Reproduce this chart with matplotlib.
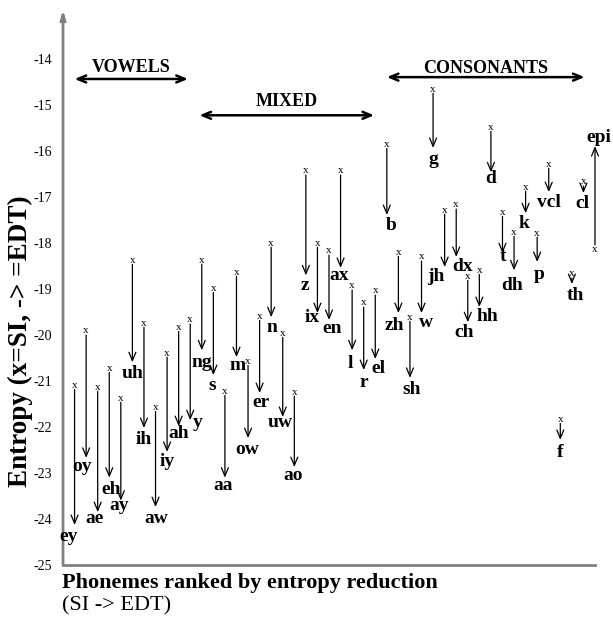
'''
Entropy of each phoneme before (SI) and after (EDT) reduction,
phonemes ranked by the size of the reduction.
'''
import matplotlib
matplotlib.use("Agg")
import matplotlib.pyplot as plt

plt.rcParams["axes.unicode_minus"] = False

phonemes = ["ey", "oy", "ae", "eh", "ay", "uh", "ih", "aw", "iy", "ah",
            "y", "ng", "s", "aa", "m", "ow", "er", "n", "uw", "ao",
            "z", "ix", "en", "ax", "l", "r", "el", "b", "zh", "sh",
            "w", "g", "jh", "dx", "ch", "hh", "d", "t", "dh", "k",
            "p", "vcl", "f", "th", "cl", "epi"]

entropy_si = [-21.09, -19.91, -21.13, -20.72, -21.37, -18.37, -19.74, -21.57, -20.39, -19.83,
              -19.67, -18.37, -18.98, -21.22, -18.63, -20.57, -19.59, -18.00, -19.96, -21.24,
              -16.43, -18.00, -18.17, -16.43, -18.93, -19.30, -19.04, -15.85, -18.20, -19.61,
              -18.30, -14.65, -17.28, -17.17, -18.72, -18.59, -15.48, -17.33, -17.76, -16.78,
              -17.78, -16.28, -21.83, -18.67, -16.67, -18.13]

entropy_edt = [-24.13, -22.67, -23.85, -23.10, -23.60, -20.59, -22.02, -23.74, -22.54, -21.98,
               -21.85, -20.33, -20.87, -23.10, -20.48, -22.24, -21.26, -19.61, -21.78, -22.87,
               -18.70, -19.52, -19.67, -18.54, -20.33, -20.76, -20.52, -17.39, -19.52, -20.93,
               -19.52, -15.93, -18.52, -18.30, -19.72, -19.39, -16.46, -18.22, -18.59, -17.35,
               -18.41, -16.89, -22.28, -18.89, -16.91, -15.89]

groups = [("VOWELS", 1.0, 10.8), ("MIXED", 11.8, 26.9), ("CONSONANTS", 28.0, 45.1)]

# label nudges in pixels (dx right, dy down) from the arrow tip
label_nudge = {
    "ey": (-6, 12), "oy": (-4, 9), "ae": (-3, 6), "eh": (2, 12), "ay": (-2, 5),
    "uh": (0, 11), "ih": (0, 12), "aw": (1, 11), "iy": (0, 10), "ah": (0, 7),
    "y": (7, 2), "ng": (0, 12), "s": (-1, 10), "aa": (-2, 8), "m": (1, 8),
    "ow": (-1, 11), "er": (1, 9), "n": (1, 10), "uw": (-3, 6), "ao": (-1, 8),
    "z": (-1, 10), "ix": (-5, 4), "en": (3, 9), "ax": (-1, 8), "l": (-2, 13),
    "r": (0, 12), "el": (3, 9), "b": (4, 10), "zh": (-4, 12), "sh": (2, 12),
    "w": (4, 9), "g": (0, 12), "jh": (-9, 9), "dx": (6, 10), "ch": (-4, 10),
    "hh": (8, 9), "d": (0, 6), "t": (0, 3), "dh": (-2, 15), "k": (-2, 10),
    "p": (2, 13), "vcl": (0, 10), "f": (0, 13), "th": (3, 11), "cl": (-1, 10),
    "epi": (4, -9),
}

SERIF = "Liberation Serif"
PX = 0.72  # points per pixel at dpi 100


def main():
    fig = plt.figure(figsize=(6.13, 6.21), dpi=100)
    ax = fig.add_axes([63 / 613, 56 / 621, 532 / 613, 555 / 621])
    ax.set_xlim(0, 46)
    ax.set_ylim(-25, -12.93)

    for s in ["top", "right", "left"]:
        ax.spines[s].set_visible(False)
    ax.spines["bottom"].set_color("#808080")
    ax.spines["bottom"].set_linewidth(2)
    # left axis with arrow on top
    ax.annotate("", xy=(0, 1), xycoords="axes fraction", xytext=(0, 0),
                arrowprops=dict(arrowstyle="-|>,head_length=0.5,head_width=0.15",
                                color="#808080", lw=2, shrinkA=0, shrinkB=0))

    ax.set_xticks([])
    ax.set_yticks(range(-25, -13))
    ax.tick_params(axis="y", length=0, pad=8)
    for lab in ax.get_yticklabels():
        lab.set_fontfamily(SERIF)
        lab.set_fontsize(10)

    for i, (name, si, edt) in enumerate(zip(phonemes, entropy_si, entropy_edt)):
        x = i + 1
        ax.annotate("", xy=(x, edt), xytext=(x, si),
                    arrowprops=dict(arrowstyle="->,head_length=0.6,head_width=0.25",
                                    color="black", lw=0.9, shrinkA=3, shrinkB=0))
        ax.text(x, si, "x", fontsize=8, family=SERIF, ha="center", va="center")
        dx, dy = label_nudge[name]
        ax.annotate(name, xy=(x, edt), xytext=(dx * PX, -dy * PX), textcoords="offset points",
                    fontsize=14, family=SERIF, fontweight="bold", ha="center", va="center")

    # group headers
    header_y = {"VOWELS": (-14.17, -14.43), "MIXED": (-14.93, -15.22), "CONSONANTS": (-14.2, -14.39)}
    for name, x0, x1 in groups:
        ty, ay = header_y[name]
        ax.annotate("", xy=(x0, ay), xytext=(x1, ay),
                    arrowprops=dict(arrowstyle="<->,head_length=0.6,head_width=0.25",
                                    color="black", lw=1.8, shrinkA=0, shrinkB=0))
        ax.text((x0 + x1) / 2, ty, name, fontsize=13, family=SERIF, fontweight="bold",
                ha="center", va="center")

    fig.text(20 / 613, 1 - 341 / 621, "Entropy (x=SI, -> =EDT)", rotation=90,
             fontsize=19.5, family=SERIF, fontweight="bold", ha="center", va="center")
    fig.text(62 / 613, 1 - 583 / 621, "Phonemes ranked by entropy reduction",
             fontsize=16, family=SERIF, fontweight="bold", ha="left", va="center")
    fig.text(62 / 613, 1 - 606 / 621, "(SI -> EDT)",
             fontsize=16, family=SERIF, ha="left", va="center")

    fig.savefig("out.png", dpi=100)


if __name__ == "__main__":
    main()
